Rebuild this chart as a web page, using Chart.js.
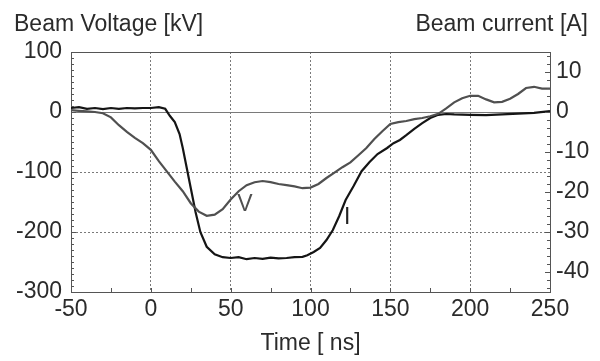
<!DOCTYPE html>
<html>
<head>
<meta charset="utf-8">
<script src="https://cdn.jsdelivr.net/npm/chart.js@4/dist/chart.umd.min.js"></script>
<style>
  body { margin: 0; background: #fff; }
</style>
</head>
<body>
<canvas id="beamChart" width="600" height="361"></canvas>
<script>
// beam voltage trace V (left axis, kV)
const timeV = [-50, -45, -40, -35, -30, -25, -20, -15, -10, -5, 0, 5, 10, 15, 20, 25, 30, 35, 40, 45,
  50, 55, 60, 65, 70, 75, 80, 85, 90, 95, 100, 105, 110, 115, 120, 125, 130, 135, 140, 145,
  150, 155, 160, 165, 170, 175, 180, 185, 190, 195, 200, 205, 210, 215, 220, 225, 230, 235, 240, 245, 250];
const voltage = [3, 2, 1, 0, -2, -9, -22, -33, -43, -52, -63, -82, -99, -116, -132, -152, -166, -173, -171, -162,
  -146, -132, -122, -117, -115, -117, -120, -122, -124, -127, -126, -120, -110, -101, -92, -84, -72, -60, -45, -32,
  -20, -17, -15, -12, -10, -7, -3, 6, 16, 23, 27, 27, 21, 16, 17, 22, 30, 40, 42, 39, 39];

// beam current trace I (right axis, A)
const timeI = [-50, -45, -40, -35, -30, -25, -20, -15, -10, -5, 0, 5, 9, 12, 15, 18, 20, 22, 25, 28,
  31, 35, 40, 45, 50, 55, 60, 65, 70, 75, 80, 85, 90, 95, 98, 102, 106, 110, 114, 118,
  122, 127, 132, 137, 142, 148, 152, 156, 160, 165, 170, 175, 180, 185, 190, 200, 210, 220, 230, 240, 250];
const current = [1, 1.2, 0.8, 1, 0.7, 1, 0.8, 1, 0.9, 1, 1, 1.2, 0.8, -1, -2.5, -5.5, -9, -13, -19, -25,
  -30, -33.7, -35.6, -36.3, -36.5, -36.3, -36.8, -36.5, -36.7, -36.4, -36.6, -36.5, -36.3, -36.2, -35.8, -35, -34, -32, -29.5, -26,
  -22, -18.5, -14.8, -12.5, -10.5, -9, -7.8, -7, -5.8, -4.2, -2.8, -1.5, -0.7, -0.5, -0.6, -0.7, -0.8, -0.6, -0.4, -0.2, 0.2];

const timeTicks = [-50, 0, 50, 100, 150, 200, 250];
const voltTicks = [-300, -200, -100, 0, 100];
const currTicks = [-40, -30, -20, -10, 0, 10];

const FONT = '"Liberation Sans", Arial, sans-serif';
const TEXT = '#2b2b2b';

Chart.defaults.font.family = FONT;
Chart.defaults.font.size = 23;
Chart.defaults.color = TEXT;

// axis frame extras: zero line, top border, inward ticks, headings, trace labels
const frame = {
  id: 'frame',
  beforeDatasetsDraw(chart) {
    const {ctx, chartArea: a, scales: {y}} = chart;
    const y0 = Math.round(y.getPixelForValue(0)) + 0.5;
    ctx.save();
    ctx.strokeStyle = '#7a7a7a';
    ctx.lineWidth = 1;
    ctx.beginPath();
    ctx.moveTo(a.left, y0);
    ctx.lineTo(a.right, y0);
    ctx.stroke();
    ctx.restore();
  },
  afterDraw(chart) {
    const {ctx, chartArea: a, scales: {x, y, y2}} = chart;
    ctx.save();
    ctx.strokeStyle = '#555';
    ctx.lineWidth = 1;
    ctx.beginPath();
    ctx.moveTo(a.left, Math.round(a.top) + 0.5);
    ctx.lineTo(a.right, Math.round(a.top) + 0.5);
    for (let v = x.min + 25; v < x.max; v += 25) {
      const p = Math.round(x.getPixelForValue(v)) + 0.5;
      ctx.moveTo(p, a.bottom);
      ctx.lineTo(p, a.bottom - 4);
    }
    for (let v = y.min + 10; v < y.max; v += 10) {
      const p = Math.round(y.getPixelForValue(v)) + 0.5;
      ctx.moveTo(a.left, p);
      ctx.lineTo(a.left + (v % 100 === 0 ? 5 : 3), p);
    }
    for (let v = y2.min + 1; v < y2.max; v += 2) {
      const p = Math.round(y2.getPixelForValue(v)) + 0.5;
      ctx.moveTo(a.right, p);
      ctx.lineTo(a.right - (v % 10 === 0 ? 5 : 3), p);
    }
    ctx.stroke();

    ctx.font = '23px ' + FONT;
    ctx.fillStyle = TEXT;
    ctx.textBaseline = 'alphabetic';
    ctx.textAlign = 'left';
    ctx.fillText('Beam Voltage [kV]', 14, 31);
    ctx.textAlign = 'right';
    ctx.fillText('Beam current [A]', 588, 31);

    ctx.textAlign = 'center';
    ctx.textBaseline = 'middle';
    ctx.fillStyle = '#505050';
    ctx.fillText('V', x.getPixelForValue(59), y.getPixelForValue(-155));
    ctx.fillStyle = '#222';
    ctx.fillText('I', x.getPixelForValue(123), y2.getPixelForValue(-26.5));
    ctx.restore();
  }
};

new Chart('beamChart', {
  type: 'line',
  data: {
    datasets: [{
      label: 'V',
      data: timeV.map((t, i) => ({x: t, y: voltage[i]})),
      yAxisID: 'y',
      borderColor: '#505050',
      borderWidth: 2.2,
      pointRadius: 0,
      tension: 0
    }, {
      label: 'I',
      data: timeI.map((t, i) => ({x: t, y: current[i]})),
      yAxisID: 'y2',
      borderColor: '#151515',
      borderWidth: 2.2,
      pointRadius: 0,
      tension: 0
    }]
  },
  options: {
    responsive: false,
    animation: false,
    layout: {padding: {top: 52, left: 0, right: 0, bottom: 0}},
    plugins: {legend: {display: false}, tooltip: {enabled: false}},
    scales: {
      x: {
        type: 'linear',
        min: -50,
        max: 250,
        afterFit: s => { s.height = 69; },
        afterBuildTicks: s => { s.ticks = timeTicks.map(v => ({value: v})); },
        ticks: {padding: 4, maxRotation: 0, autoSkip: false},
        grid: {
          drawTicks: false,
          color: c => (c.tick && (c.tick.value === -50 || c.tick.value === 250)) ? 'rgba(0,0,0,0)' : '#7a7a7a'
        },
        border: {color: '#555', width: 1, dash: [2, 2]},
        title: {display: true, text: 'Time [ ns]', padding: {top: 0, bottom: 4}}
      },
      y: {
        position: 'left',
        min: -300,
        max: 100,
        afterFit: s => { s.width = 71; },
        afterBuildTicks: s => { s.ticks = voltTicks.map(v => ({value: v})); },
        ticks: {padding: 9},
        grid: {
          drawTicks: false,
          color: c => (c.tick && (c.tick.value === -100 || c.tick.value === -200)) ? '#7a7a7a' : 'rgba(0,0,0,0)'
        },
        border: {color: '#555', width: 1, dash: [2, 2]}
      },
      y2: {
        position: 'right',
        min: -45,
        max: 15,
        afterFit: s => { s.width = 50; },
        afterBuildTicks: s => { s.ticks = currTicks.map(v => ({value: v})); },
        ticks: {padding: 6},
        grid: {display: false, drawTicks: false},
        border: {color: '#555', width: 1}
      }
    }
  },
  plugins: [frame]
});
</script>
</body>
</html>
